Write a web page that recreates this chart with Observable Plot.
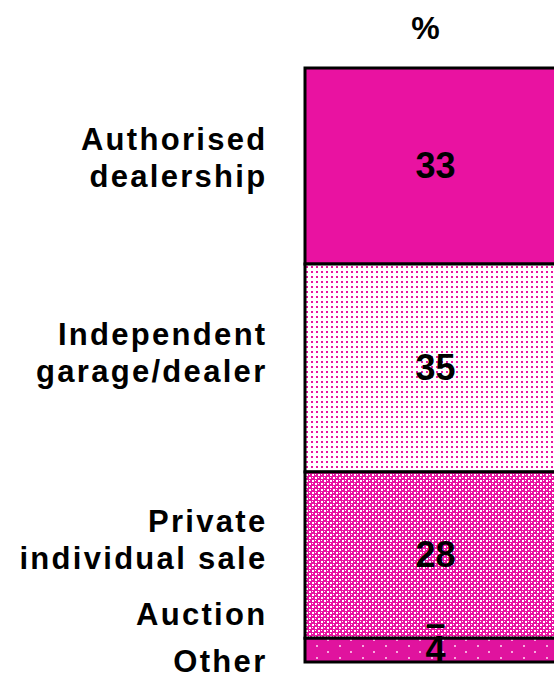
<!DOCTYPE html>
<html>
<head>
<meta charset="utf-8">
<script src="https://cdn.jsdelivr.net/npm/d3@7"></script>
<script src="https://cdn.jsdelivr.net/npm/@observablehq/plot@0.6"></script>
<style>
  html, body { margin: 0; padding: 0; background: white; overflow: hidden; }
  #chart svg { display: block; overflow: hidden; }
  .catlabel text { letter-spacing: 2.3px; }
</style>
</head>
<body>
<div id="chart"></div>
<script>
// Data
const categories = ["Authorised dealership", "Independent garage/dealer", "Private individual sale", "Auction", "Other"];
const labelLines = [["Authorised", "dealership"], ["Independent", "garage/dealer"], ["Private", "individual sale"], ["Auction"], ["Other"]];
const values = [33, 35, 28, 0, 4];
const valueLabels = ["33", "35", "28", "–", "4"];
const header = "%";

// layout / styling (not data)
const fills = ["#E912A1", "url(#pDots)", "url(#pDense)", "none", "url(#pOther)"];
const labelDy = [-10, -17, -17, -26, 9];
const valueDy = [0, 0, 0, -14, 0];

let acc = 0;
const rows = categories.map((c, i) => {
  const start = acc;
  acc += values[i];
  return { category: c, value: values[i], start, mid: start + values[i] / 2, lines: labelLines[i], vlabel: valueLabels[i], fill: fills[i], i };
});

const font = "'Liberation Sans', Arial, sans-serif";

const marks = [
  Plot.rect(rows.filter(d => d.value > 0), {
    x1: 0, x2: 1,
    y1: "start", y2: d => d.start + d.value,
    fill: "fill",
    stroke: "black",
    strokeWidth: 3
  }),
  ...rows.map((d, i) => Plot.text([d], {
    x: 0, y: "mid",
    text: r => r.lines.join("\n"),
    textAnchor: "end",
    dx: -38,
    dy: labelDy[i],
    lineHeight: 1.2,
    fontSize: 31,
    fontWeight: "bold",
    fill: "black",
    className: "catlabel"
  })),
  ...rows.map((d, i) => Plot.text([d], {
    x: 0.5, y: "mid",
    text: "vlabel",
    dy: valueDy[i],
    fontSize: 36,
    fontWeight: "bold",
    fill: "black"
  })),
  Plot.text([header], {
    x: 0.5, y: 0, text: d => d,
    dx: -10, dy: -40,
    fontSize: 32, fontWeight: "bold", fill: "black"
  })
];

const svg = Plot.plot({
  width: 554,
  height: 675,
  margin: 0,
  style: { fontFamily: font, background: "white", overflow: "hidden" },
  x: { domain: [0, 1], range: [305, 565], axis: null },
  y: { domain: [0, 100], range: [68, 662], axis: null },
  color: { type: "identity" },
  marks
});

const defs = d3.select(svg).insert("defs", ":first-child");
// dots on white
const p1 = defs.append("pattern").attr("id", "pDots").attr("patternUnits", "userSpaceOnUse").attr("width", 5).attr("height", 5);
p1.append("rect").attr("width", 5).attr("height", 5).attr("fill", "white");
p1.append("rect").attr("x", 1).attr("y", 1).attr("width", 2).attr("height", 2).attr("fill", "#E912A1");
// dense pattern
const p2 = defs.append("pattern").attr("id", "pDense").attr("patternUnits", "userSpaceOnUse").attr("width", 6).attr("height", 6);
p2.append("rect").attr("width", 6).attr("height", 6).attr("fill", "#E912A1");
p2.append("rect").attr("x", 0).attr("y", 0).attr("width", 2).attr("height", 2).attr("fill", "white");
p2.append("rect").attr("x", 3).attr("y", 3).attr("width", 2).attr("height", 2).attr("fill", "white");
p2.append("rect").attr("x", 3).attr("y", 0).attr("width", 1).attr("height", 1).attr("fill", "white");
p2.append("rect").attr("x", 0).attr("y", 3).attr("width", 1).attr("height", 1).attr("fill", "white");
// other: magenta with sparse light dots
const p3 = defs.append("pattern").attr("id", "pOther").attr("patternUnits", "userSpaceOnUse").attr("width", 23).attr("height", 12);
p3.append("rect").attr("width", 23).attr("height", 12).attr("fill", "#E0139E");
p3.append("rect").attr("x", 5).attr("y", 3).attr("width", 2).attr("height", 2).attr("fill", "#F7A8DE");
p3.append("rect").attr("x", 17).attr("y", 9).attr("width", 2).attr("height", 2).attr("fill", "#F7A8DE");

document.getElementById("chart").appendChild(svg);
</script>
</body>
</html>
